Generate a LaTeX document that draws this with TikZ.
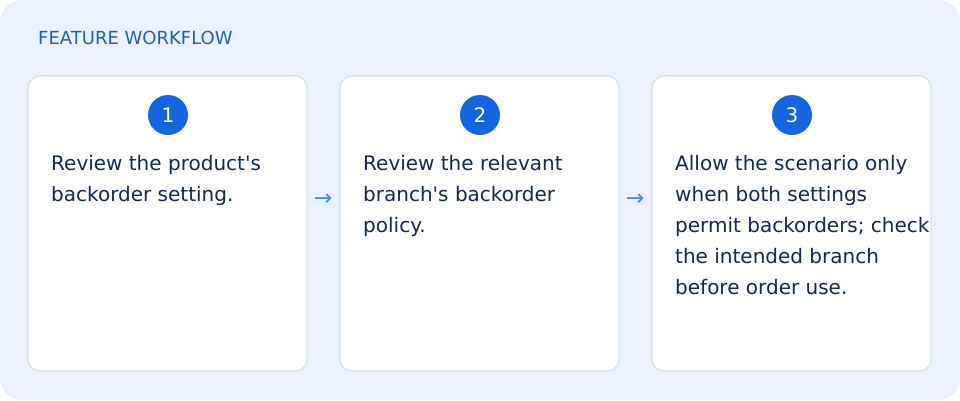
\documentclass[tikz,border=0pt]{standalone}
\usepackage{fontspec}
\setmainfont{DejaVu Sans}
\definecolor{bg}{HTML}{EBF2FD}
\definecolor{cardb}{HTML}{D2E0F5}
\definecolor{blue1}{HTML}{1565E0}
\definecolor{title}{HTML}{1E5FB8}
\definecolor{txt}{HTML}{13294B}
\definecolor{arr}{HTML}{3F82E6}
\begin{document}
\begin{tikzpicture}[x=1pt,y=-1pt,
  card/.style={draw=cardb,line width=1.2pt,fill=white,rounded corners=12pt},
  num/.style={circle,fill=blue1,minimum size=40pt,inner sep=0pt,text=white,font=\fontsize{20}{22}\selectfont},
  body/.style={anchor=north west,inner sep=0pt,align=left,text=txt,font=\fontsize{20}{31}\selectfont},
  arrow/.style={text=arr,font=\fontsize{22}{24}\selectfont}]
\useasboundingbox (0,0) rectangle (960,400);
\fill[bg,rounded corners=22pt] (0,0) rectangle (960,400);
\node[anchor=west,inner sep=0pt,text=title,font=\fontsize{18}{20}\selectfont] (t) at (38,38) {FEATURE WORKFLOW};
\draw[card] (28,76) rectangle (307,371);
\draw[card] (340,76) rectangle (619,371);
\draw[card] (652,76) rectangle (931,371);
\node[num] (n1) at (168,115) {1};
\node[num] (n2) at (480,115) {2};
\node[num] (n3) at (792,115) {3};
\node[body] (b1) at (51,155) {Review the product\textquotesingle s\\backorder setting.};
\node[body] (b2) at (363,155) {Review the relevant\\branch\textquotesingle s backorder\\policy.};
\node[body] (b3) at (675,155) {Allow the scenario only\\when both settings\\permit backorders; check\\the intended branch\\before order use.};
\node[arrow] (a1) at (323,200) {→};
\node[arrow] (a2) at (635,200) {→};
\end{tikzpicture}
\end{document}
